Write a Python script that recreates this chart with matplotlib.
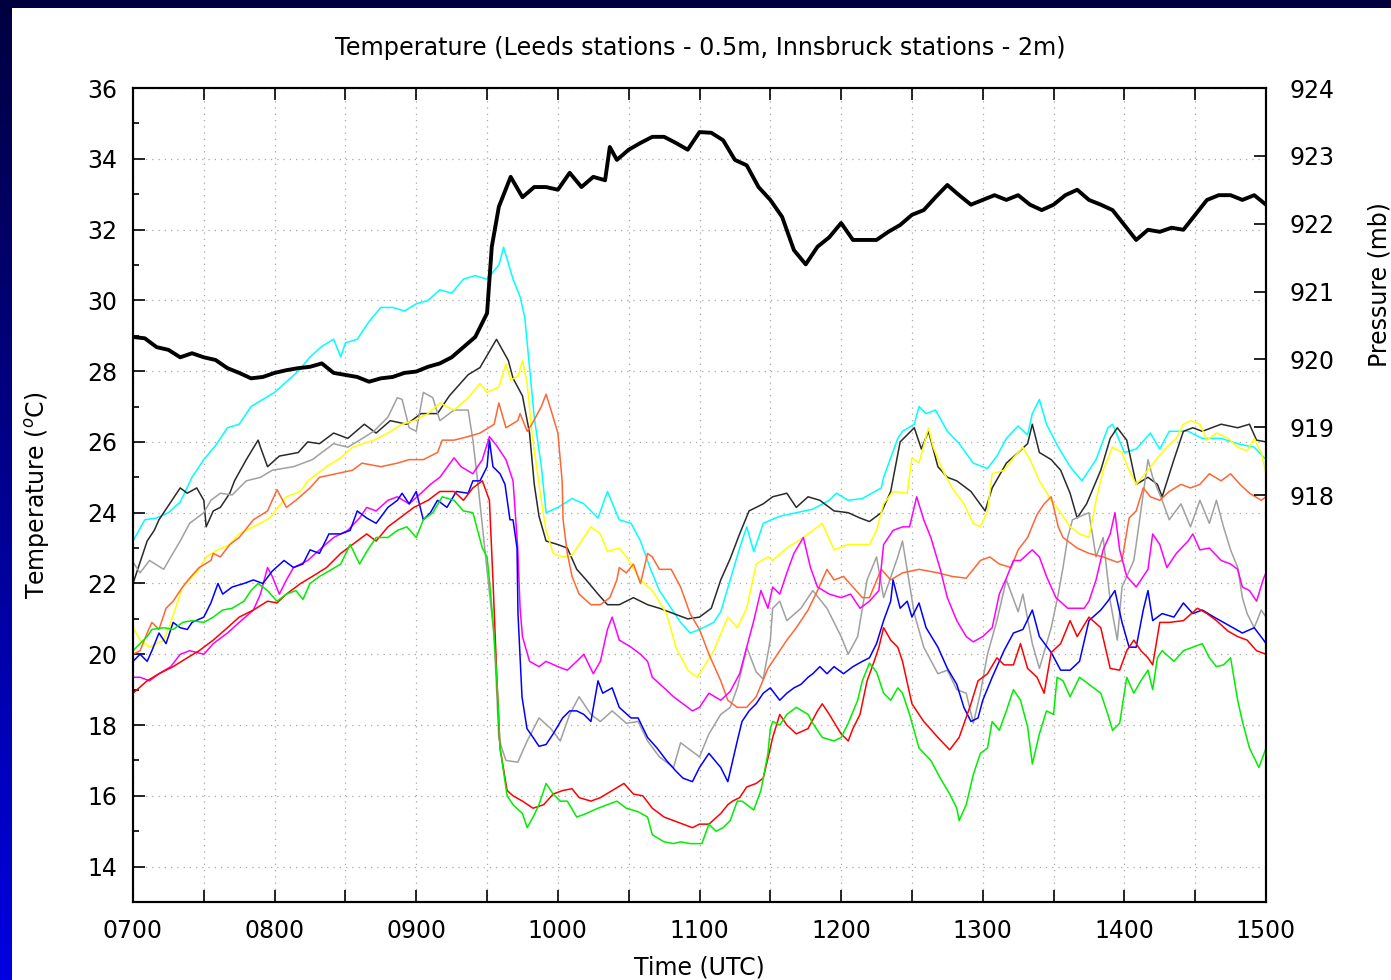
import numpy as np
import matplotlib
matplotlib.use('Agg')
import matplotlib.pyplot as plt
from matplotlib.patches import Rectangle
from matplotlib.colors import LinearSegmentedColormap
from matplotlib.ticker import MultipleLocator

plt.rcParams['font.family'] = ['DejaVu Sans']

# ---------------- data (time in minutes after 0700 UTC) ----------------
hour_ticks = list(range(0, 481, 30))
hour_labels = ['0700', '', '0800', '', '0900', '', '1000', '', '1100', '', '1200', '', '1300', '', '1400', '', '1500']

press_t = [0,5,10,15,20,25,30,35,40,45,50,55,60,65,70,75,80,85,90,95,100,105,110,115,120,125,130,135,140,145,150,152,155,160,165,170,175,180,185,190,195,200,202,205,210,215,220,225,230,235,240,245,250,255,260,265,270,275,280,285,290,295,300,305,310,315,320,325,330,335,340,345,350,355,360,365,370,375,380,385,390,395,400,405,410,415,420,425,430,435,440,445,450,455,460,465,470,475,480]
press_v = [920.33,920.31,920.18,920.14,920.03,920.09,920.03,919.99,919.87,919.80,919.72,919.74,919.80,919.84,919.87,919.89,919.94,919.80,919.77,919.74,919.67,919.72,919.74,919.80,919.82,919.89,919.94,920.03,920.18,920.33,920.68,921.66,922.25,922.69,922.39,922.54,922.54,922.50,922.75,922.54,922.69,922.64,923.13,922.94,923.09,923.19,923.28,923.28,923.19,923.09,923.35,923.34,923.23,922.94,922.86,922.54,922.35,922.10,921.61,921.40,921.66,921.80,922.01,921.76,921.76,921.76,921.88,921.98,922.13,922.20,922.39,922.57,922.42,922.28,922.35,922.42,922.35,922.42,922.28,922.20,922.28,922.42,922.50,922.35,922.28,922.20,921.98,921.76,921.91,921.88,921.94,921.91,922.13,922.35,922.42,922.42,922.35,922.42,922.28]

cyan_t = [0,5,10,15,20,25,30,35,40,45,50,55,60,65,70,75,80,85,88,90,95,100,105,110,115,120,125,130,135,140,145,150,155,157,161,164,166,168,170,173,175,180,186,191,197,201,206,211,215,219,223,228,232,236,240,246,249,253,257,260,263,267,274,281,288,295,298,303,309,317,318,324,326,331,333,336,340,345,350,356,362,366,370,375,379,381,384,387,392,397,402,408,413,415,420,425,431,435,439,447,453,461,468,475,480]
cyan_v = [23.2,23.8,23.85,24.0,24.3,25.0,25.5,25.9,26.4,26.5,27.0,27.2,27.4,27.7,28.0,28.4,28.7,28.9,28.4,28.8,28.9,29.4,29.8,29.8,29.7,29.9,30.0,30.3,30.2,30.6,30.7,30.6,31.0,31.5,30.6,30.1,29.5,28.1,26.7,25.3,24.0,24.15,24.4,24.25,23.85,24.6,23.8,23.7,23.2,22.45,21.8,21.3,20.9,20.6,20.7,20.9,21.2,22.1,23.0,23.6,22.9,23.7,23.9,24.0,24.1,24.35,24.55,24.35,24.4,24.7,25.0,26.1,26.3,26.5,27.0,26.8,26.9,26.3,25.95,25.4,25.25,25.6,26.1,26.45,26.2,26.8,27.2,26.5,25.85,25.3,24.9,25.5,26.4,26.5,25.7,25.8,26.25,25.8,26.3,26.3,26.1,26.1,25.95,25.85,25.5]

dark_t = [0,3,6,9,11,20,23,27,30,31,34,37,41,43,48,53,54,57,62,70,74,79,85,91,98,103,109,116,122,129,134,142,147,154,159,161,165,168,170,172,175,180,184,188,192,197,201,206,212,218,223,229,235,240,245,249,253,257,261,267,271,277,281,286,291,297,303,308,312,317,321,325,331,334,337,341,345,349,355,361,364,370,375,379,381,384,389,393,397,400,404,410,414,417,421,425,430,434,436,441,445,449,453,461,468,473,476,480]
dark_v = [22.0,22.6,23.2,23.5,23.8,24.7,24.55,24.7,24.35,23.6,24.05,24.15,24.55,24.9,25.5,26.05,25.85,25.3,25.6,25.7,26.0,25.95,26.25,26.1,26.5,26.25,26.6,26.5,26.8,26.8,27.3,27.9,28.1,28.9,28.3,27.8,27.3,26.25,24.8,23.9,23.2,23.1,23.0,22.4,22.1,21.7,21.4,21.4,21.6,21.4,21.3,21.15,21.0,21.05,21.3,22.1,22.7,23.4,24.05,24.25,24.45,24.55,24.15,24.45,24.35,24.05,24.0,23.85,23.75,24.0,24.6,26.0,26.4,25.8,26.3,25.3,25.0,24.9,24.6,24.05,24.7,25.4,25.7,25.95,26.5,25.7,25.5,25.2,24.55,23.85,24.25,25.2,26.1,26.4,26.05,24.8,25.0,24.8,24.45,25.5,26.3,26.4,26.3,26.5,26.4,26.5,26.05,26.0]

gray_t = [0,3,7,13,16,20,24,30,33,37,42,48,54,59,68,76,85,91,96,102,108,112,114,117,120,123,127,130,136,142,144,146,149,153,155,158,163,167,172,177,181,185,189,194,198,203,209,214,218,223,229,232,236,240,244,249,253,256,258,260,264,267,270,271,274,277,283,288,294,300,303,307,311,315,318,324,326,331,335,341,345,349,353,356,359,362,366,370,375,377,381,384,389,392,394,396,398,405,408,411,414,417,419,424,425,430,432,436,439,444,448,452,456,459,462,465,468,470,472,475,478,480]
gray_v = [22.6,22.3,22.65,22.4,22.75,23.2,23.7,24.0,24.35,24.55,24.5,24.9,25.0,25.2,25.3,25.5,25.95,25.85,26.05,26.3,26.7,27.25,27.2,26.4,26.3,27.4,27.25,26.6,26.9,26.9,26.05,24.9,23.0,20.5,17.6,17.0,16.95,17.55,18.2,17.9,17.55,18.3,18.8,18.3,18.1,18.4,18.05,18.1,17.55,17.1,16.8,17.5,17.3,17.1,17.75,18.3,18.5,19.05,19.6,20.2,19.5,19.3,20.4,21.3,21.5,20.95,21.3,21.8,21.3,20.5,20.0,20.5,22.1,22.75,21.6,22.75,23.2,21.15,20.2,19.45,19.55,19.0,18.9,18.05,18.9,20.0,20.95,22.1,21.2,21.7,20.3,19.6,20.75,21.7,22.45,23.3,23.8,24.0,22.75,23.3,21.5,20.4,21.9,22.65,23.1,25.5,25.0,24.35,23.8,24.25,23.6,24.35,23.7,24.35,23.6,22.95,22.45,21.6,21.15,20.75,21.25,21.05]

yellow_t = [0,3,7,13,16,19,21,24,28,31,36,41,45,51,58,65,71,74,82,88,93,102,108,114,119,125,130,136,142,147,150,155,158,160,163,165,167,169,172,174,175,178,182,186,191,194,198,201,206,209,215,220,226,230,235,239,241,246,252,256,260,264,269,271,277,284,288,292,297,303,309,312,315,318,322,328,330,333,337,339,343,347,352,356,359,362,364,369,373,377,380,384,389,393,397,401,405,408,411,415,419,422,425,430,434,438,442,445,448,452,455,459,464,468,472,475,478,480]
yellow_v = [20.75,20.4,20.2,20.4,20.9,21.5,21.9,22.1,22.4,22.75,22.95,23.1,23.4,23.6,23.85,24.45,24.6,24.9,25.3,25.55,25.85,26.05,26.25,26.5,26.6,26.8,27.1,26.9,27.25,27.65,27.4,27.55,28.2,27.75,27.85,28.3,27.65,26.25,24.8,23.9,23.5,22.85,22.75,22.8,23.3,23.6,23.4,22.9,23.0,22.75,22.1,21.8,21.15,20.2,19.55,19.35,19.55,20.1,21.05,20.75,21.3,22.55,22.75,22.65,23.0,23.3,23.5,23.7,22.95,23.1,23.1,23.1,23.5,24.25,24.6,24.55,25.55,25.4,26.4,25.85,25.2,24.7,24.25,23.7,23.6,24.05,25.1,25.2,25.55,25.85,25.5,24.9,24.35,24.0,23.6,23.4,23.3,24.35,25.2,25.85,25.7,25.2,24.8,25.2,25.55,25.85,26.1,26.5,26.6,26.5,26.05,26.25,26.1,25.85,25.75,26.1,25.7,25.1]

orange_t = [0,3,6,8,11,14,17,21,24,28,33,34,37,41,45,51,57,61,65,69,75,79,86,93,97,105,112,117,123,129,131,136,142,147,153,155,158,163,164,167,169,173,175,178,180,181.8,182.2,184,186,189,194,198,202,205,206,209,212,215,218,220,223,228,232,236,240,244,249,252,256,260,264,269,273,277,281,286,290,294,297,301,305,309,312,317,321,326,333,341,347,353,359,363,367,372,375,379,383,386,389,392,394,400,405,411,417,419,422,425,428,431,435,439,444,448,452,456,461,465,469,473,478,480]
orange_v = [20.0,20.1,20.6,20.9,20.7,21.3,21.5,21.9,22.15,22.45,22.65,22.85,22.75,23.1,23.3,23.8,24.05,24.65,24.15,24.35,24.7,25.0,25.1,25.2,25.4,25.3,25.4,25.5,25.5,25.7,26.05,26.05,26.15,26.25,26.5,27.1,26.4,26.6,26.8,26.3,26.5,27.0,27.35,26.7,26.25,24.9,23.8,22.85,22.2,21.7,21.4,21.4,21.6,22.1,22.45,22.3,22.55,22.0,22.85,22.75,22.4,22.4,21.9,21.15,20.7,20.0,19.25,18.7,18.5,18.5,18.8,19.6,20.0,20.4,20.75,21.25,21.8,22.4,22.1,22.2,21.9,21.6,21.6,22.4,22.1,22.3,22.4,22.3,22.2,22.15,22.65,22.75,22.55,22.45,22.95,23.3,23.95,24.25,24.45,23.6,23.3,23.0,22.85,22.75,22.6,22.65,23.85,24.05,24.7,24.45,24.35,24.6,24.8,24.7,24.8,25.1,24.9,25.1,24.8,24.55,24.35,24.45]

magenta_t = [0,3,7,11,16,20,24,30,34,40,45,51,54,57,59,62,65,68,74,79,85,91,96,99,103,108,112,117,122,126,130,136,139,144,148,151,154,158,161,163,164,165,168,172,175,180,184,188,191,195,198,201,203,206,211,215,218,220,225,229,233,237,240,244,249,253,257,260,263,266,269,271,274,277,280,284,287,290,295,300,304,308,312,316,318,322,326,329,332,335,338,342,345,349,353,356,360,364,367,370,373,376,381,384,387,391,396,403,405,408,411,414,416,418,421,425,430,432,435,438,442,447,449,452,456,461,465,468,470,473,476,479,480]
magenta_v = [19.35,19.35,19.25,19.45,19.65,20.0,20.1,20.0,20.3,20.6,20.9,21.25,21.7,22.45,22.2,21.7,22.1,22.45,22.65,22.95,23.3,23.5,23.85,24.15,24.05,24.35,24.45,24.25,24.55,24.8,25.0,25.55,25.3,25.1,25.5,26.15,25.9,25.5,24.9,23.0,21.3,20.5,19.8,19.65,19.8,19.65,19.55,19.8,20.0,19.45,19.8,20.7,21.05,20.4,20.2,20.0,19.8,19.35,19.05,18.8,18.6,18.4,18.5,18.9,18.7,18.95,19.45,20.2,20.95,21.8,21.3,21.9,21.7,22.3,22.85,23.3,22.45,21.9,21.7,21.6,21.7,21.3,21.5,21.8,23.1,23.5,23.6,23.6,24.45,23.8,23.3,22.4,21.6,20.95,20.5,20.35,20.5,20.75,21.7,22.15,22.65,22.65,22.95,22.75,22.2,21.6,21.3,21.3,21.5,22.1,22.95,23.4,24.0,22.95,22.2,21.9,22.4,23.4,23.1,22.45,22.85,23.2,23.4,22.95,23.0,22.65,22.55,22.4,21.9,21.8,21.5,22.15,22.3]

blue_t = [0,3,6,8,11,14,17,20,23,25,30,33,36,38,42,47,51,55,59,64,68,72,75,79,83,88,92,95,99,103,108,112,114,117,120,123,126,129,133,137,142,144,147,150,151,152.5,155.5,157.6,159.7,161,162.7,163.1,164.8,166.9,169.5,172,175,178,182,185,188,191,194,197,199,203,206,211,214,218,222,226,230,233,237,240,244,249,252,256,258,261,264,267,270,274,277,280,283,286,288,291,294,297,301,305,309,312,315,318,321,322,325,328,330,333,336,341,345,349,352,355,358,360,364,369,373,377,381,384,389,393,397,401,405,410,413,416,419,422,425,428,430,432,436,441,445,449,453,458,462,466,470,475,479,480]
blue_v = [19.8,20.0,19.8,20.1,20.6,20.3,20.9,20.75,20.7,20.9,21.05,21.45,22.0,21.7,21.9,22.0,22.1,22.0,22.35,22.65,22.45,22.55,22.95,22.85,23.4,23.4,23.5,24.05,23.85,23.7,24.15,24.35,24.55,24.25,24.6,23.8,24.0,24.35,24.15,24.6,24.55,24.9,24.9,25.3,26.05,25.3,25.1,24.8,23.8,23.8,23.0,21.15,18.8,17.9,17.65,17.4,17.45,17.75,18.2,18.4,18.4,18.3,18.1,19.25,18.9,19.05,18.5,18.2,18.2,17.65,17.35,17.0,16.7,16.5,16.4,16.8,17.2,16.8,16.4,17.55,18.1,18.4,18.6,18.9,19.05,18.7,18.9,19.05,19.15,19.35,19.45,19.65,19.45,19.65,19.45,19.65,19.8,19.9,20.3,20.95,21.5,22.1,21.3,21.5,21.05,21.45,20.75,20.2,19.6,19.15,18.5,18.1,18.2,18.7,19.35,20.1,20.6,20.7,21.25,20.5,20.05,19.55,19.55,19.8,20.95,21.25,21.5,21.8,20.9,20.2,20.2,21.25,21.8,20.95,21.15,21.05,21.45,21.15,21.25,21.05,20.9,20.75,20.6,20.75,20.4,20.3]

red_t = [0,6,11,17,23,28,34,40,45,51,57,61,65,71,76,82,88,93,99,103,108,113,119,125,130,136,140,144,148,151,152.5,154.2,155.5,158.5,161,165,169.5,174,178,182,186,189,194,198,203,208,212,216,220,225,229,233,237,240,244,249,252,254,257,260,264,267,270,271,274,277,281,286,290,292,295,300,303,305,308,311,314,316,318,321,324,326,330,335,341,346,350,355,358,362,366,369,373,376,379,383,386,389,393,397,400,405,410,414,418,421,424,427,430,432,435,439,445,451,455,459,464,468,472,476,480]
red_v = [18.9,19.25,19.45,19.65,19.9,20.1,20.4,20.75,21.05,21.25,21.5,21.45,21.7,22.0,22.2,22.45,22.85,23.1,23.4,23.2,23.6,23.85,24.15,24.35,24.6,24.6,24.35,24.7,24.9,24.35,22.1,19.25,17.35,16.15,16.0,15.85,15.65,15.75,16.05,16.15,16.2,15.95,15.85,15.95,16.15,16.35,16.05,16.0,15.65,15.4,15.3,15.2,15.1,15.2,15.2,15.5,15.75,15.85,15.95,16.25,16.35,16.5,17.35,17.65,18.3,18.0,17.75,17.9,18.4,18.6,18.3,17.75,17.55,17.9,18.3,19.25,19.8,20.2,20.75,20.4,20.2,19.8,18.6,18.1,17.65,17.3,17.65,18.6,19.25,19.45,19.9,19.7,19.7,20.3,19.6,19.35,18.9,20.05,20.3,20.95,20.5,21.05,20.75,19.6,19.55,20.1,20.4,20.1,19.9,19.7,20.9,20.9,20.95,21.3,21.15,20.95,20.65,20.5,20.4,20.1,20.0]

green_t = [0,3,6,8,13,17,21,25,30,34,38,42,47,50,53,57,61,65,69,72,75,79,83,88,92,96,99,103,108,112,116,120,123,127,131,136,140,144,148,150,151,152.5,154.2,155.5,158.5,161,165,167,169.5,172,175,178,181,184,188,192,197,201,205,209,214,218,220,225,229,232,236,241,244,247,250,253,256,258,263,266,269,270,271,274,277,281,286,288,292,297,300,303,307,309,312,315,318,321,324,326,329,333,338,342,346,349,350,353,356,359,362,364,367,370,373,376,379,381,384,387,390,391.5,394,397,401,405,410,413,415,418,421,424,427,430,432,434,436,441,445,449,453,456,459,462,465,468,470,473,477,480]
green_v = [20.1,20.3,20.5,20.7,20.75,20.7,20.9,20.95,20.9,21.05,21.25,21.3,21.5,21.8,22.0,21.8,21.5,21.7,21.8,21.55,22.0,22.2,22.35,22.55,23.1,22.55,22.9,23.3,23.3,23.5,23.6,23.3,23.8,24.0,24.45,24.35,24.05,24.0,23.0,22.75,22.1,20.95,19.25,17.35,16.0,15.75,15.5,15.1,15.4,15.75,16.35,16.05,15.85,15.85,15.4,15.5,15.65,15.75,15.85,15.65,15.55,15.4,14.9,14.7,14.65,14.7,14.65,14.65,15.2,15.0,15.1,15.3,15.85,15.85,15.6,16.15,17.2,17.9,18.1,18.0,18.3,18.5,18.3,18.05,17.65,17.55,17.65,18.05,18.7,19.25,19.75,19.5,18.9,18.7,19.05,18.9,18.3,17.35,17.0,16.5,16.05,15.65,15.3,15.75,16.6,17.2,17.35,18.1,17.85,18.4,19.0,18.7,17.95,16.9,17.75,18.4,18.3,19.35,19.25,18.8,19.35,19.15,18.9,18.3,17.85,18.05,19.35,18.9,19.25,19.55,19.0,19.9,20.1,19.8,20.1,20.2,20.3,19.9,19.65,19.7,19.9,18.7,18.1,17.35,16.8,17.35]

temp_series = [
    (cyan_t, cyan_v, '#00ffff'),
    (dark_t, dark_v, '#2a2a2a'),
    (gray_t, gray_v, '#a0a0a0'),
    (yellow_t, yellow_v, '#ffff00'),
    (orange_t, orange_v, '#ff6633'),
    (magenta_t, magenta_v, '#ff00ff'),
    (blue_t, blue_v, '#0000ff'),
    (red_t, red_v, '#ff0000'),
    (green_t, green_v, '#00ee00'),
]

# ---------------- figure & background ----------------
W, H = 1391, 980
fig = plt.figure(figsize=(W / 100, H / 100), dpi=100)
fig.patch.set_facecolor('#000040')

strip = fig.add_axes([0, 0, 12 / W, 1])
grad = np.linspace(0, 1, 256).reshape(-1, 1)
cmap = LinearSegmentedColormap.from_list('bg', ['#000040', '#0000e0'])
strip.imshow(grad, aspect='auto', cmap=cmap, extent=[0, 1, 0, 1], origin='upper')
strip.set_axis_off()

fig.add_artist(Rectangle((12 / W, 0), 1 - 12 / W, (H - 8) / H, transform=fig.transFigure,
                         facecolor='white', edgecolor='none', zorder=-5))

ax = fig.add_axes([133 / W, (H - 902) / H, 1133 / W, 814 / H])
ax.set_facecolor('white')
for t, v, c in temp_series:
    ax.plot(t, v, color=c, linewidth=1.1)

ax.set_xlim(0, 480)
ax.set_ylim(13, 36)
ax.set_xticks(hour_ticks)
ax.set_xticklabels(hour_labels)
ax.set_yticks(range(14, 37, 2))
ax.yaxis.set_minor_locator(MultipleLocator(1))
ax.tick_params(axis='x', which='major', direction='in', length=8.5, width=1.2,
               top=True, labelsize=17, pad=12)
ax.tick_params(axis='y', which='major', direction='in', length=8.5, width=1.2,
               right=False, labelsize=17, pad=11)
ax.tick_params(axis='y', which='minor', direction='in', length=4, width=1.2, right=False)
ax.grid(True, which='major', color='#a8a8a8', linestyle=(0, (1, 4)), linewidth=0.9)
for s in ax.spines.values():
    s.set_linewidth(1.5)

ax.set_xlabel('Time (UTC)', fontsize=17)
ax.xaxis.set_label_coords(0.5, -0.066)
ax.xaxis.label.set_verticalalignment('top')
ax.set_ylabel('Temperature ($^o$C)', fontsize=17)
ax.yaxis.set_label_coords(-0.0715, 0.5)

ax2 = ax.twinx()
ax2.plot(press_t, press_v, color='black', linewidth=2.8)
ax2.set_ylim(912, 924)
ax2.set_yticks(range(918, 925))
ax2.tick_params(axis='y', direction='in', length=8.5, width=1.2, labelsize=17, pad=17)
ax2.set_ylabel('Pressure (mb)', fontsize=17)
ax2.yaxis.set_label_coords(1.090, 0.758)
for s in ax2.spines.values():
    s.set_linewidth(1.5)

fig.text(700 / W, 1 - 48 / H, 'Temperature (Leeds stations - 0.5m, Innsbruck stations - 2m)',
         ha='center', va='center', fontsize=17.2)

fig.savefig('out.png', dpi=100, facecolor=fig.get_facecolor())
